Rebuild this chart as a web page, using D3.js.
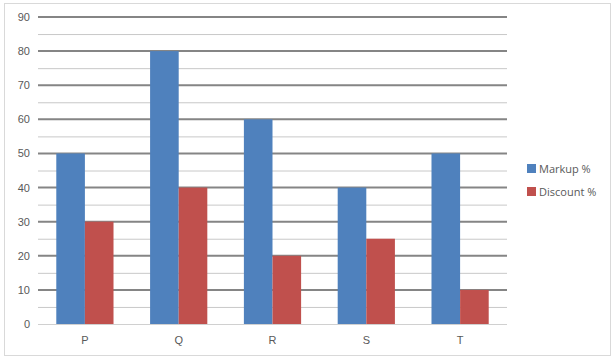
<!DOCTYPE html>
<html><head><meta charset="utf-8">
<script src="https://cdn.jsdelivr.net/npm/d3@7"></script>
<style>body{margin:0;background:#fff}svg{display:block;font-family:"Open Sans","Segoe UI",Arial,sans-serif}</style>
</head><body><svg id="c" width="615" height="362"></svg>
<script>
const categories = ["P","Q","R","S","T"];
const seriesNames = ["Markup %","Discount %"];
const markup = [50,80,60,40,50];
const discount = [30,40,20,25,10];
const yTicks = [0,10,20,30,40,50,60,70,80,90];
const colors = ["#4F81BD","#C0504D"];

const svg = d3.select("#c");
svg.append("rect").attr("x",4.5).attr("y",3.5).attr("width",606).attr("height",352)
  .attr("fill","#fff").attr("stroke","#d9d9d9");

const L=38, R=507, T=17, B=324;
const x = d3.scaleBand().domain(categories).range([L,R]).paddingInner(0.39).paddingOuter(0.195);
const xs = d3.scaleBand().domain(seriesNames).range([0,x.bandwidth()]);
const y = d3.scaleLinear().domain([0,90]).range([B,T]);

// minor grid
const minor = d3.range(5,90,10);
svg.append("g").selectAll("line").data(minor).join("line")
  .attr("x1",L).attr("x2",R).attr("y1",d=>y(d)+0.5).attr("y2",d=>y(d)+0.5)
  .attr("stroke","#c8c8c8").attr("stroke-width",1);
// major grid
svg.append("g").selectAll("line").data(yTicks.filter(d=>d>0)).join("line")
  .attr("x1",L).attr("x2",R).attr("y1",d=>y(d)).attr("y2",d=>y(d))
  .attr("stroke","#858585").attr("stroke-width",2);
svg.append("line").attr("x1",L).attr("x2",R).attr("y1",B+0.5).attr("y2",B+0.5).attr("stroke","#d0d0d0");

// y axis labels
const ya = d3.axisLeft(y).tickValues(yTicks).tickSize(0).tickPadding(8);
const yg = svg.append("g").attr("transform",`translate(${L},0)`).call(ya);
yg.select(".domain").remove();
yg.selectAll("text").attr("fill","#595959").style("font-size","11px");

// bars
const data = categories.map((c,i)=>({c, v:[markup[i],discount[i]]}));
const g = svg.append("g");
data.forEach(d=>{
  d.v.forEach((v,j)=>{
    g.append("rect").attr("x",x(d.c)+xs(seriesNames[j])).attr("width",xs.bandwidth())
      .attr("y",y(v)).attr("height",B-y(v)).attr("fill",colors[j]);
  });
});

// x axis labels
const xa = d3.axisBottom(x).tickSize(0).tickPadding(12);
const xg = svg.append("g").attr("transform",`translate(0,${B})`).call(xa);
xg.select(".domain").remove();
xg.selectAll("text").attr("fill","#595959").style("font-size","11px");

// legend
const lg = svg.append("g").attr("transform","translate(527,164)");
seriesNames.forEach((n,i)=>{
  lg.append("rect").attr("x",0).attr("y",i*23).attr("width",9).attr("height",9).attr("fill",colors[i]);
  lg.append("text").attr("x",12).attr("y",i*23+8.5).text(n).attr("fill","#595959").style("font-size","11px");
});
</script></body></html>
